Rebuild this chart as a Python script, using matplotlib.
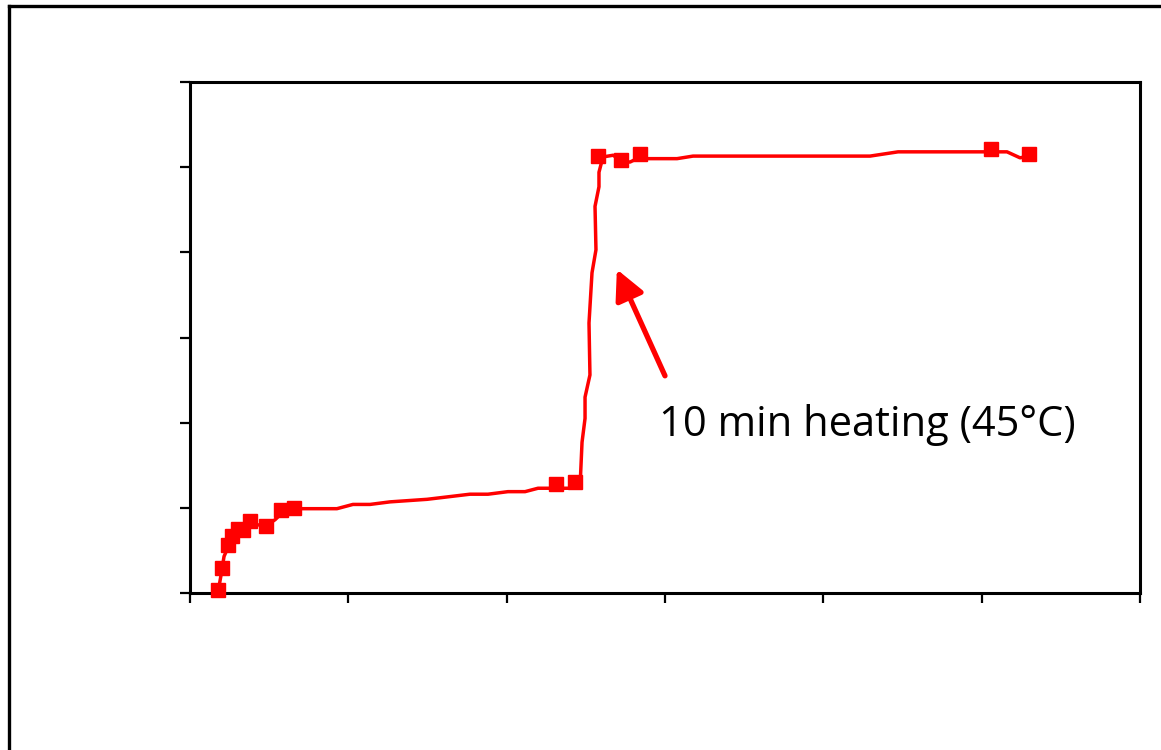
import matplotlib
matplotlib.use("Agg")
import matplotlib.pyplot as plt
from matplotlib.lines import Line2D

# ---------------------------------------------------------------------------
# Data (axes carry no labels)
# ---------------------------------------------------------------------------
# measured points (square markers)
marker_x = [1.79, 2.00, 2.38, 2.63, 3.05, 3.37, 3.79, 4.78, 5.73, 6.57,
            23.14, 24.34, 25.75, 27.20, 28.42, 50.57, 53.01]
marker_y = [0.035, 0.29, 0.56, 0.67, 0.75, 0.74, 0.84, 0.79, 0.98, 1.00,
            1.28, 1.30, 5.13, 5.09, 5.15, 5.21, 5.15]

# continuous trace
line_x = [1.77, 1.96, 2.15, 2.46, 2.91, 3.35, 3.79, 4.29, 4.80, 5.37, 5.87,
          6.51, 7.58, 9.28, 10.29, 11.37, 12.63, 14.97, 17.68, 18.82, 20.08,
          21.16, 21.98, 22.74, 24.63, 24.76, 24.95, 24.95, 25.26, 25.20,
          25.39, 25.64, 25.58, 25.83, 25.83, 26.08, 26.72, 27.28, 27.79,
          28.23, 30.76, 31.77, 42.95, 44.72, 51.60, 52.42, 53.05]
line_y = [0.01, 0.21, 0.43, 0.56, 0.67, 0.74, 0.80, 0.80, 0.79, 0.86, 0.95,
          0.99, 0.99, 0.99, 1.04, 1.04, 1.07, 1.10, 1.16, 1.16, 1.19,
          1.19, 1.23, 1.23, 1.23, 1.77, 2.05, 2.30, 2.56, 3.17,
          3.76, 4.03, 4.54, 4.77, 4.94, 5.12, 5.14, 5.07, 5.06,
          5.10, 5.10, 5.13, 5.13, 5.18, 5.18, 5.11, 5.13]

x_ticks = [0, 10, 20, 30, 40, 50, 60]
y_ticks = [0, 1, 2, 3, 4, 5, 6]

annot_text = "10 min heating (45\u00b0C)"
arrow_tip = (26.96, 3.80)
arrow_tail = (30.0, 2.55)
text_pos = (29.6, 1.84)

RED = "#ff0000"

# ---------------------------------------------------------------------------
# Figure
# ---------------------------------------------------------------------------
fig = plt.figure(figsize=(11.61, 7.5), dpi=100)
ax = fig.add_axes([190 / 1161, 1 - 593 / 750, 950 / 1161, 511 / 750])

ax.plot(line_x, line_y, color=RED, lw=2.5, zorder=3)
ax.plot(marker_x, marker_y, ls="none", marker="s", ms=9.5, color=RED,
        mec=RED, clip_on=False, zorder=4)

ax.set_xlim(0, 60)
ax.set_ylim(0, 6)
ax.set_xticks(x_ticks)
ax.set_yticks(y_ticks)
ax.set_xticklabels([])
ax.set_yticklabels([])
ax.tick_params(direction="out", length=7, width=1.6, color="black")
for sp in ax.spines.values():
    sp.set_linewidth(2.2)
    sp.set_color("black")

ax.annotate("", xy=arrow_tip, xytext=arrow_tail,
            arrowprops=dict(arrowstyle="-|>,head_length=1.8,head_width=0.9",
                            color=RED, lw=3.8, shrinkA=0, shrinkB=0))
ax.text(text_pos[0], text_pos[1], annot_text, fontsize=30,
        family=["Open Sans", "DejaVu Sans"], color="black",
        ha="left", va="baseline")

# outer chart frame (only left and top edges fall inside the picture)
fig.add_artist(Line2D([8.5 / 1161, 8.5 / 1161], [0, 1 - 6 / 750],
                      transform=fig.transFigure, color="black", lw=2.4))
fig.add_artist(Line2D([8.5 / 1161, 1], [1 - 6 / 750, 1 - 6 / 750],
                      transform=fig.transFigure, color="black", lw=2.4))

fig.savefig("out.png", dpi=100)
